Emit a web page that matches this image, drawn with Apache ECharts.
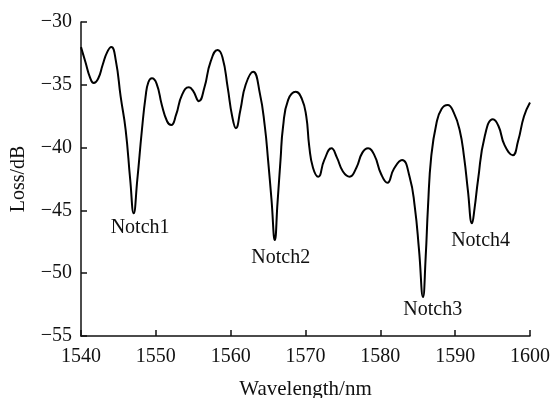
<!DOCTYPE html>
<html>
<head>
<meta charset="utf-8">
<script src="https://cdn.jsdelivr.net/npm/echarts@6/dist/echarts.min.js"></script>
<style>html,body{margin:0;padding:0;background:#fff;}#c{width:558px;height:398px;}</style>
</head>
<body>
<div id="c"></div>
<script>
// Wavelength (nm) and loss (dB)
var wavelength = [1540.0,1540.6,1541.2,1541.7,1542.3,1542.9,1543.5,1544.05,1544.66,1545.3,1545.97,1546.58,1547.04,1547.52,1548.14,1548.63,1549.0,1549.48,1550.1,1550.8,1551.5,1552.06,1552.7,1553.5,1554.42,1555.0,1555.75,1556.5,1557.3,1558.25,1558.9,1559.6,1560.2,1560.7,1561.3,1562.0,1563.0,1563.9,1564.57,1565.0,1565.46,1565.9,1566.26,1566.66,1567.0,1567.68,1568.7,1569.5,1570.1,1570.5,1571.0,1571.7,1572.5,1573.47,1574.2,1575.0,1575.9,1576.8,1577.6,1578.36,1579.2,1580.1,1580.95,1581.8,1582.9,1583.9,1584.6,1585.17,1585.7,1586.06,1586.37,1586.8,1587.5,1588.2,1589.0,1589.8,1590.6,1591.2,1591.7,1592.25,1592.6,1593.05,1593.94,1595.05,1595.8,1596.6,1597.7,1598.4,1599.2,1600.0];
var loss = [-32.0,-33.2,-34.4,-34.85,-34.5,-33.4,-32.4,-32.0,-33.1,-35.95,-38.6,-42.58,-45.23,-42.58,-38.6,-35.95,-34.8,-34.48,-34.9,-36.6,-37.9,-38.2,-37.4,-35.8,-35.2,-35.5,-36.3,-35.2,-33.2,-32.23,-32.8,-35.2,-37.5,-38.45,-37.0,-35.0,-33.96,-35.68,-38.34,-41.0,-44.17,-47.36,-44.4,-41.0,-38.34,-36.2,-35.55,-36.1,-37.5,-39.9,-41.6,-42.32,-41.0,-40.06,-40.8,-41.9,-42.32,-41.6,-40.4,-40.06,-40.6,-42.1,-42.8,-41.7,-40.99,-42.3,-44.7,-48.15,-51.9,-48.7,-44.7,-40.72,-38.06,-36.9,-36.6,-37.2,-38.6,-40.8,-43.4,-46.03,-44.8,-42.6,-39.13,-37.75,-38.3,-39.8,-40.6,-39.5,-37.5,-36.4];
var notchNames = ['Notch1','Notch2','Notch3','Notch4'];
var notchX = [1547.9,1566.7,1587.0,1593.4];
var notchY = [-46.4,-48.8,-52.9,-47.4];
var xTicks = [1540,1550,1560,1570,1580,1590,1600];
var yTicks = [-55,-50,-45,-40,-35,-30];

var curve = wavelength.map(function(w,i){return [w, loss[i]];});
var labels = notchNames.map(function(n,i){return {name:n, value:[notchX[i], notchY[i]]};});
var font = 'Liberation Serif';
var chart = echarts.init(document.getElementById('c'), null, {renderer:'canvas'});
chart.setOption({
  animation:false,
  backgroundColor:'#fff',
  grid:{left:81,right:28,top:22,bottom:62,containLabel:false,outerBoundsMode:'none'},
  xAxis:{
    type:'value', min:xTicks[0], max:xTicks[xTicks.length-1], interval:10,
    name:'Wavelength/nm', nameLocation:'middle', nameGap:43,
    nameTextStyle:{fontFamily:font,fontSize:21,color:'#111'},
    axisLine:{show:true,onZero:false,lineStyle:{color:'#111',width:1.5}},
    axisTick:{show:true,inside:true,length:6,lineStyle:{color:'#111',width:1.5}},
    axisLabel:{fontFamily:font,fontSize:20,color:'#111',margin:11,
      formatter:function(v){return String(v);}},
    splitLine:{show:false}
  },
  yAxis:{
    type:'value', min:yTicks[0], max:yTicks[yTicks.length-1], interval:5,
    name:'Loss/dB', nameLocation:'middle', nameGap:52, nameRotate:90,
    nameTextStyle:{fontFamily:font,fontSize:20,color:'#111'},
    axisLine:{show:true,onZero:false,lineStyle:{color:'#111',width:1.5}},
    axisTick:{show:true,inside:true,length:6,lineStyle:{color:'#111',width:1.5}},
    axisLabel:{fontFamily:font,fontSize:20,color:'#111',margin:9,
      formatter:function(v){return String(v).replace('-','\u2212');}},
    splitLine:{show:false}
  },
  series:[
    {type:'line', data:curve, showSymbol:false, smooth:0.5,
     lineStyle:{color:'#000',width:2}, z:3},
    {type:'scatter', data:labels, symbolSize:0, itemStyle:{opacity:1},
     label:{show:true,position:'inside',formatter:'{b}',fontFamily:font,fontSize:20,color:'#111',opacity:1}}
  ]
});
</script>
</body>
</html>
